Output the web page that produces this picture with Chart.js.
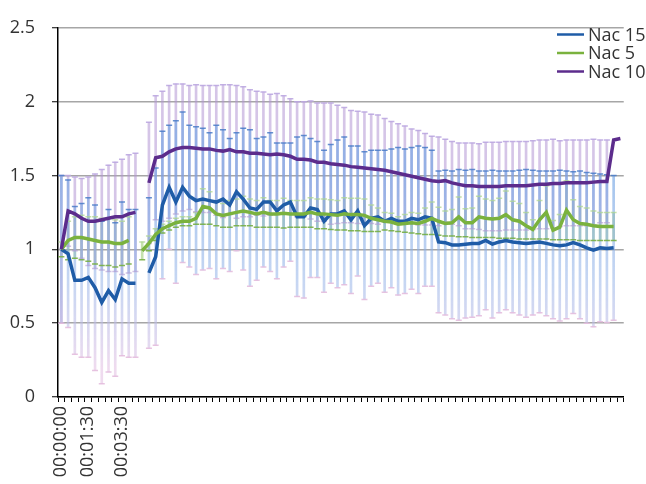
<!DOCTYPE html>
<html>
<head>
<meta charset="utf-8">
<script src="https://cdn.jsdelivr.net/npm/chart.js@4.4.0/dist/chart.umd.min.js"></script>
<style>
  body { margin: 0; background: #fff; }
  #contenedor { width: 646px; height: 484px; }
</style>
</head>
<body>
<div id="contenedor"><canvas id="grafico"></canvas></div>
<script>
// etiquetas visibles del eje X y su posicion (categoria)
const etiquetas = ['00:00:00', '00:01:30', '00:03:30'];
const posEtiquetas = [0, 4, 9];

const nombres = ['Nac 15', 'Nac 5', 'Nac 10'];

const nac15 = [1.00,0.97,0.79,0.79,0.81,0.74,0.64,0.72,0.66,0.80,0.77,0.77,
  null,
  0.84,0.95,1.30,1.42,1.32,1.42,1.36,1.33,1.34,1.33,1.32,1.34,
  1.30,1.39,1.34,1.28,1.27,1.32,1.32,1.26,1.30,1.32,1.22,1.22,
  1.28,1.27,1.19,1.24,1.24,1.26,1.20,1.26,1.16,1.21,1.22,
  1.19,1.21,1.19,1.19,1.21,1.20,1.22,1.21,
  1.05,1.045,1.03,1.03,1.035,1.04,1.04,1.06,1.035,1.05,
  1.06,1.05,1.045,1.04,1.045,1.05,1.04,1.03,1.025,1.03,
  1.045,1.03,1.01,0.995,1.01,1.005,1.01,
  null];

const nac5 = [1.00,1.06,1.08,1.08,1.07,1.06,1.05,1.05,1.04,1.04,1.06,
  null,
  0.99,1.04,1.10,1.14,1.16,1.18,1.19,1.19,1.21,1.29,1.28,1.24,
  1.23,1.24,1.25,1.26,1.25,1.24,1.25,1.24,1.24,1.245,1.24,1.24,
  1.24,1.25,1.24,1.24,1.235,1.23,1.24,1.235,1.235,1.23,1.21,1.20,
  1.19,1.185,1.17,1.175,1.18,1.175,1.19,1.21,1.19,1.175,
  1.18,1.22,1.18,1.18,1.22,1.21,1.205,1.21,1.235,1.20,
  1.19,1.16,1.135,1.20,1.25,1.13,1.15,1.265,1.20,1.175,
  1.17,1.16,1.155,1.155,1.155,
  null];

const nac10 = [1.00,1.26,1.24,1.21,1.19,1.19,1.20,1.21,1.22,1.22,1.24,1.25,
  null,
  1.45,1.62,1.63,1.66,1.68,1.69,1.69,1.685,1.68,1.68,1.67,1.665,
  1.675,1.66,1.66,1.65,1.65,1.645,1.64,1.645,1.64,1.63,1.61,1.61,
  1.605,1.59,1.59,1.58,1.575,1.57,1.56,1.555,1.55,1.545,1.54,
  1.535,1.525,1.515,1.505,1.495,1.485,1.475,1.465,1.46,1.465,
  1.45,1.44,1.43,1.43,1.425,1.425,1.425,1.425,1.43,1.43,
  1.43,1.43,1.435,1.44,1.44,1.445,1.445,1.45,1.45,1.45,
  1.45,1.455,1.46,1.46,1.74,1.75];

// barras de error (+/-)
const nac15Err = [0.50,0.50,0.50,0.52,0.54,0.56,0.55,0.55,0.52,0.52,0.50,0.50,
  null,
  0.51,0.60,0.50,0.42,0.55,0.51,0.48,0.50,0.48,0.46,0.52,0.47,
  0.45,0.40,0.48,0.53,0.48,0.44,0.47,0.46,0.42,0.40,0.54,0.55,
  0.47,0.46,0.48,0.47,0.50,0.50,0.50,0.44,0.50,0.46,0.45,
  0.48,0.47,0.50,0.49,0.48,0.50,0.47,0.46,
  0.48,0.49,0.50,0.51,0.50,0.50,0.49,0.47,0.50,0.48,
  0.47,0.48,0.49,0.50,0.49,0.48,0.49,0.50,0.51,0.50,
  0.48,0.50,0.51,0.52,0.50,0.50,0.49,
  null];

const nac5Err = [0.05,0.13,0.14,0.15,0.15,0.16,0.16,0.16,0.16,0.15,0.16,
  null,
  0.06,0.05,0.04,0.03,0.03,0.03,0.03,0.03,0.04,0.12,0.11,0.08,
  0.08,0.09,0.09,0.10,0.09,0.09,0.10,0.09,0.09,0.10,0.09,0.09,
  0.09,0.10,0.10,0.10,0.10,0.10,0.11,0.11,0.11,0.11,0.09,0.08,
  0.06,0.06,0.05,0.06,0.07,0.07,0.09,0.11,0.095,0.085,
  0.09,0.135,0.095,0.10,0.14,0.13,0.125,0.135,0.16,0.125,
  0.12,0.09,0.065,0.13,0.18,0.065,0.085,0.20,0.135,0.115,
  0.11,0.10,0.095,0.095,0.095,
  null];

const nac10Err = [0.50,0.24,0.25,0.27,0.30,0.32,0.34,0.36,0.37,0.39,0.40,0.40,
  null,
  0.41,0.42,0.44,0.45,0.44,0.43,0.42,0.43,0.43,0.43,0.44,0.45,
  0.44,0.45,0.44,0.43,0.42,0.42,0.41,0.41,0.40,0.39,0.39,0.39,
  0.40,0.40,0.40,0.41,0.40,0.39,0.38,0.38,0.38,0.37,0.37,
  0.35,0.34,0.335,0.33,0.32,0.32,0.31,0.30,0.30,0.28,
  0.28,0.28,0.29,0.29,0.29,0.30,0.30,0.30,0.30,0.30,
  0.30,0.30,0.30,0.30,0.30,0.30,0.29,0.29,0.29,0.29,
  0.29,0.29,0.28,0.28,
  null,null];

const colorAzul = 'rgb(31, 92, 167)';
const colorVerde = 'rgb(122, 178, 62)';
const colorMorado = 'rgb(92, 44, 140)';

document.addEventListener('DOMContentLoaded', function() {
    cargarGrafico();
});

function rango(valores, errores) {
    return valores.map((v, i) => (v === null || errores[i] === null) ? null : [v - errores[i], v + errores[i]]);
}

function extremo(valores, errores, signo) {
    return valores.map((v, i) => (v === null || errores[i] === null) ? null : v + signo * errores[i]);
}

// barras azules: se van volviendo rosadas hacia abajo
function degradadoAzul(context) {
    const chart = context.chart;
    const y = chart.scales.y;
    if (!chart.chartArea || !y) return 'rgba(120,170,230,0.6)';
    const g = chart.ctx.createLinearGradient(0, y.getPixelForValue(1.5), 0, y.getPixelForValue(0.2));
    g.addColorStop(0, 'rgba(115,165,228,0.65)');
    g.addColorStop(0.55, 'rgba(150,180,232,0.55)');
    g.addColorStop(1, 'rgba(228,195,228,0.6)');
    return g;
}

function barrasError(valores, errores, color) {
    return {
        type: 'bar',
        data: rango(valores, errores),
        backgroundColor: color,
        borderWidth: 0,
        barThickness: 2,
        grouped: false,
        order: 3
    };
}

function topesError(valores, errores, signo, color) {
    return {
        type: 'line',
        data: extremo(valores, errores, signo),
        showLine: false,
        pointStyle: 'line',
        pointRadius: 3,
        pointHoverRadius: 3,
        pointBorderWidth: 1.5,
        pointBorderColor: color,
        pointBackgroundColor: color,
        order: 2
    };
}

function serie(nombre, valores, color, orden) {
    return {
        type: 'line',
        label: nombre,
        data: valores,
        borderColor: color,
        backgroundColor: color,
        borderWidth: 3.5,
        pointRadius: 0,
        tension: 0,
        spanGaps: false,
        order: orden,
        esSerie: true
    };
}

const leyenda = {
    id: 'leyenda',
    afterDraw(chart) {
        const ctx = chart.ctx;
        ctx.save();
        ctx.font = '18px "Open Sans"';
        ctx.fillStyle = '#333';
        ctx.textBaseline = 'middle';
        chart.data.datasets.filter(d => d.esSerie).forEach((d, i) => {
            const y = 34.5 + i * 18.5;
            ctx.strokeStyle = d.borderColor;
            ctx.lineWidth = 2.5;
            ctx.beginPath();
            ctx.moveTo(557, y);
            ctx.lineTo(584, y);
            ctx.stroke();
            ctx.fillText(d.label, 588, y + 1);
        });
        ctx.restore();
    }
};

function cargarGrafico() {
    const categorias = nac10.map(() => '');
    posEtiquetas.forEach((p, i) => categorias[p] = etiquetas[i]);

    Chart.defaults.font.family = '"Open Sans", sans-serif';
    Chart.defaults.color = '#333';

    const ctx = document.getElementById('grafico').getContext('2d');
    new Chart(ctx, {
        type: 'line',
        data: {
            labels: categorias,
            datasets: [
                serie(nombres[0], nac15, colorAzul, 1.2),
                serie(nombres[1], nac5, colorVerde, 1.1),
                serie(nombres[2], nac10, colorMorado, 1.0),
                barrasError(nac15, nac15Err, degradadoAzul),
                barrasError(nac10, nac10Err, 'rgba(178,150,212,0.55)'),
                barrasError(nac5, nac5Err, 'rgba(150,200,110,0.55)'),
                topesError(nac15, nac15Err, 1, 'rgba(75,125,200,0.85)'),
                topesError(nac15, nac15Err, -1, 'rgba(228,190,222,0.9)'),
                topesError(nac10, nac10Err, 1, 'rgba(188,168,225,0.9)'),
                topesError(nac10, nac10Err, -1, 'rgba(180,160,212,0.65)'),
                topesError(nac5, nac5Err, 1, 'rgba(175,215,145,0.75)'),
                topesError(nac5, nac5Err, -1, 'rgba(120,175,70,0.9)')
            ]
        },
        options: {
            responsive: true,
            maintainAspectRatio: false,
            animation: false,
            layout: { padding: { top: 18, right: 0, left: 0, bottom: 0 } },
            plugins: {
                legend: { display: false },
                tooltip: { enabled: false }
            },
            scales: {
                x: {
                    offset: true,
                    grid: {
                        offset: true,
                        drawOnChartArea: false,
                        drawTicks: true,
                        tickLength: 5,
                        tickColor: '#000',
                        lineWidth: 1
                    },
                    border: { color: '#000', width: 1.5 },
                    ticks: {
                        autoSkip: false,
                        minRotation: 90,
                        maxRotation: 90,
                        padding: 4,
                        font: { size: 18 }
                    },
                    afterFit(scale) { scale.height = 87; }
                },
                y: {
                    min: 0,
                    max: 2.5,
                    ticks: {
                        stepSize: 0.5,
                        padding: 17,
                        font: { size: 18 },
                        callback: value => String(value)
                    },
                    grid: {
                        color: '#a6a6a6',
                        lineWidth: 1.5,
                        tickLength: 6,
                        tickColor: '#000',
                        tickWidth: 1
                    },
                    border: { color: '#000', width: 1.5 },
                    afterFit(scale) { scale.width = 58; }
                }
            }
        },
        plugins: [leyenda]
    });
}
</script>
</body>
</html>
